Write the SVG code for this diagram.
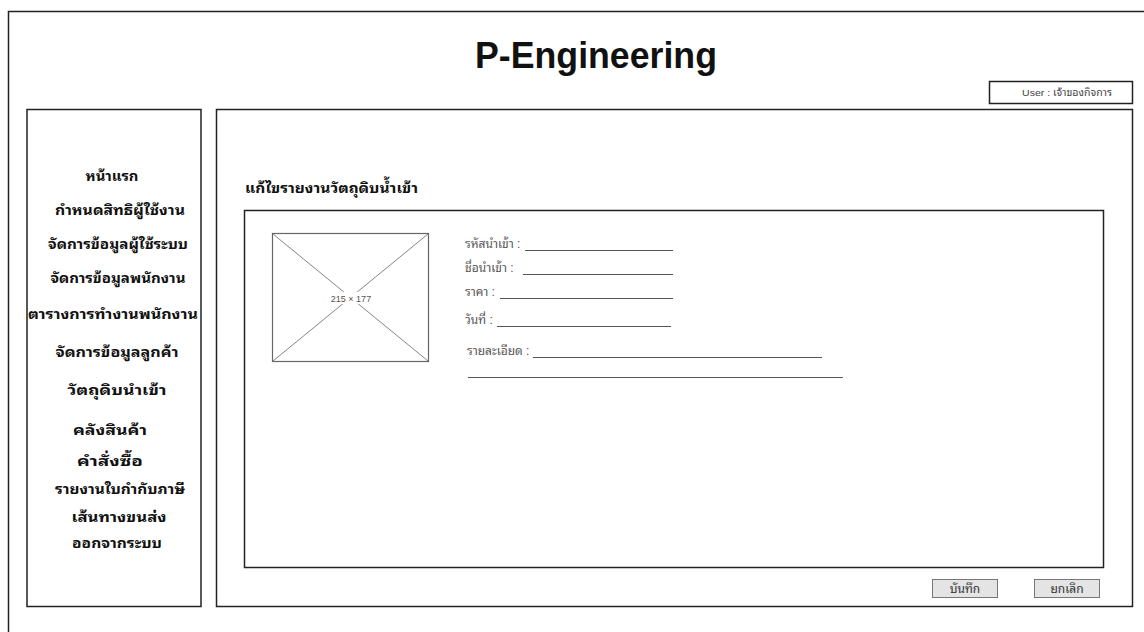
<svg xmlns="http://www.w3.org/2000/svg" width="1144" height="632" viewBox="0 0 1144 632">
<style>
.frame{fill:#fff;stroke:#222;stroke-width:1.5}
.menu{font-family:"Liberation Sans","Noto Sans Thai Looped","Noto Sans Thai","Noto Sans",sans-serif;font-size:14px;font-weight:bold;fill:#111;text-anchor:middle}
.lbl{font-family:"Liberation Sans","Noto Sans Thai Looped","Noto Sans Thai","Noto Sans",sans-serif;font-size:12px;fill:#555}
.ul{stroke:#555;stroke-width:1}
.btn{fill:#e4e4e4;stroke:#777;stroke-width:1}
.btxt{font-family:"Liberation Sans","Noto Sans Thai Looped","Noto Sans Thai","Noto Sans",sans-serif;font-size:12px;fill:#333;text-anchor:middle}
</style>
<rect x="0" y="0" width="1144" height="632" fill="#fff"/>
<g id="outer-frame">
<rect x="8.5" y="11.5" width="1150" height="640" class="frame"/>
</g>
<g id="title">
<text x="596" y="68" font-family="Liberation Sans, Arial, sans-serif" font-size="36" font-weight="bold" fill="#111" text-anchor="middle" textLength="242" lengthAdjust="spacingAndGlyphs">P-Engineering</text>
</g>
<g id="user-box">
<rect x="989.5" y="81.5" width="143" height="22" class="frame"/>
<text x="1067" y="96" font-family="Liberation Sans, 'Noto Sans Thai Looped', 'Noto Sans Thai', sans-serif" font-size="9.5" fill="#444" text-anchor="middle" textLength="90" lengthAdjust="spacingAndGlyphs">User : เจ้าของกิจการ</text>
</g>
<g id="sidebar">
<rect x="27" y="109.5" width="174" height="497" class="frame"/>
<text class="menu" x="112" y="181" textLength="53" lengthAdjust="spacingAndGlyphs">หน้าแรก</text>
<text class="menu" x="120" y="215" textLength="130" lengthAdjust="spacingAndGlyphs">กำหนดสิทธิผู้ใช้งาน</text>
<text class="menu" x="118" y="249" textLength="140" lengthAdjust="spacingAndGlyphs">จัดการข้อมูลผู้ใช้ระบบ</text>
<text class="menu" x="118" y="283" textLength="135" lengthAdjust="spacingAndGlyphs">จัดการข้อมูลพนักงาน</text>
<text class="menu" x="113" y="319" textLength="170" lengthAdjust="spacingAndGlyphs">ตารางการทำงานพนักงาน</text>
<text class="menu" x="117" y="357" textLength="123" lengthAdjust="spacingAndGlyphs">จัดการข้อมูลลูกค้า</text>
<text class="menu" x="117" y="395" textLength="99" lengthAdjust="spacingAndGlyphs">วัตถุดิบนำเข้า</text>
<text class="menu" x="110" y="435" textLength="74" lengthAdjust="spacingAndGlyphs">คลังสินค้า</text>
<text class="menu" x="110" y="466" textLength="66" lengthAdjust="spacingAndGlyphs">คำสั่งซื้อ</text>
<text class="menu" x="120" y="494" textLength="130" lengthAdjust="spacingAndGlyphs">รายงานใบกำกับภาษี</text>
<text class="menu" x="119" y="522" textLength="95" lengthAdjust="spacingAndGlyphs">เส้นทางขนส่ง</text>
<text class="menu" x="117" y="548" textLength="90" lengthAdjust="spacingAndGlyphs">ออกจากระบบ</text>
</g>
<g id="main-panel">
<rect x="216.5" y="109.5" width="916" height="497" class="frame"/>
<text x="245" y="193" font-family="Liberation Sans, 'Noto Sans Thai Looped', 'Noto Sans Thai', sans-serif" font-size="14.5" font-weight="bold" fill="#111" textLength="173" lengthAdjust="spacingAndGlyphs">แก้ไขรายงานวัตถุดิบน้ำเข้า</text>
</g>
<g id="form-box">
<rect x="244.5" y="210.5" width="859" height="357" class="frame"/>
</g>
<g id="image-placeholder">
<rect x="272.5" y="233.5" width="156" height="128" fill="#fff" stroke="#666" stroke-width="1.2"/>
<line x1="273" y1="234" x2="428" y2="361" stroke="#666" stroke-width="0.8"/>
<line x1="428" y1="234" x2="273" y2="361" stroke="#666" stroke-width="0.8"/>
<rect x="330" y="292" width="42" height="12" fill="#fff"/>
<text x="351" y="301.5" font-family="Liberation Sans, sans-serif" font-size="9" fill="#555" text-anchor="middle">215 × 177</text>
</g>
<g id="fields">
<text class="lbl" x="465" y="248">รหัสนำเข้า :</text>
<line class="ul" x1="525" y1="250.5" x2="673" y2="250.5"/>
<text class="lbl" x="465" y="272">ชื่อนำเข้า :</text>
<line class="ul" x1="523" y1="274.5" x2="673" y2="274.5"/>
<text class="lbl" x="465" y="296">ราคา :</text>
<line class="ul" x1="500" y1="298.5" x2="673" y2="298.5"/>
<text class="lbl" x="465" y="324">วันที่ :</text>
<line class="ul" x1="497" y1="326.5" x2="671" y2="326.5"/>
<text class="lbl" x="467" y="355">รายละเอียด :</text>
<line class="ul" x1="533" y1="357.5" x2="822" y2="357.5"/>
<line class="ul" x1="468" y1="377.5" x2="843" y2="377.5"/>
</g>
<g id="btn-save">
<rect x="932.5" y="579.5" width="65" height="18" class="btn"/>
<text class="btxt" x="965" y="593">บันทึก</text>
</g>
<g id="btn-cancel">
<rect x="1034.5" y="579.5" width="65" height="18" class="btn"/>
<text class="btxt" x="1067" y="593">ยกเลิก</text>
</g>
</svg>
